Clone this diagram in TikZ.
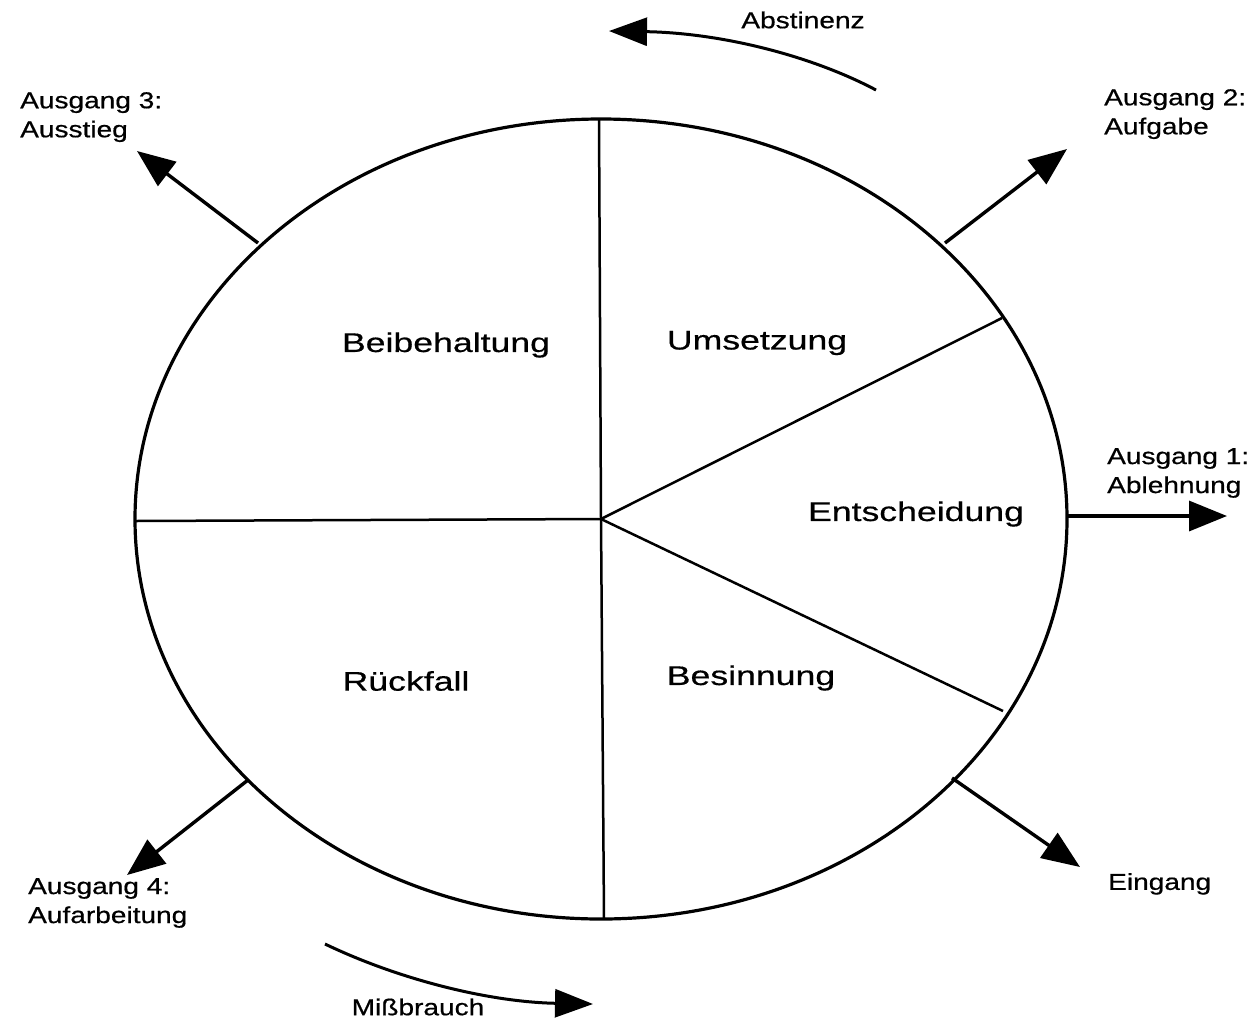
\documentclass[tikz,border=0pt]{standalone}
\usepackage{fontspec}
\setmainfont{Liberation Sans}
\newfontfamily\smallf[FakeStretch=1.22,FakeBold=0.6]{Liberation Sans}
\newfontfamily\bigf[FakeStretch=1.32,FakeBold=0.5]{Liberation Sans}
\usetikzlibrary{arrows.meta}
\begin{document}
\begin{tikzpicture}[x=1pt,y=-1pt,
  lab/.style={font=\smallf\fontsize{23}{29}\selectfont,align=left,inner sep=0pt},
  phase/.style={font=\bigf\fontsize{27}{32}\selectfont,inner sep=0pt},
  sector/.style={line width=2.5pt},
  outarrow/.style={line width=3.4pt,-{Triangle[length=38pt,width=30pt]}},
  curvearrow/.style={line width=3pt,-{Triangle[length=38pt,width=28pt]}}]
\useasboundingbox (0,0) rectangle (1258,1021);
% ellipse
\coordinate (C) at (601,519);
\draw[line width=3.2pt] (C) ellipse [x radius=466, y radius=400];
% sector lines
\coordinate (top) at (599,119);
\coordinate (bot) at (604,919);
\coordinate (lft) at (135,521);
\coordinate (ur) at (1002,318);
\coordinate (lr) at (1003,711);
\draw[sector] (C) -- (top);
\draw[sector] (C) -- (bot);
\draw[sector] (C) -- (lft);
\draw[sector] (C) -- (ur);
\draw[sector] (C) -- (lr);
% phase labels
\node[phase] (beib) at (446,345) {Beibehaltung};
\node[phase] (ums) at (757,343) {Umsetzung};
\node[phase] (ent) at (916,514) {Entscheidung};
\node[phase] (rue) at (406,681) {Rückfall};
\node[phase] (bes) at (751,678) {Besinnung};
% outer labels
\node[lab,anchor=north west] (a3) at (20,92) {Ausgang 3:\\Ausstieg};
\node[lab,anchor=north west] (a2) at (1104,89) {Ausgang 2:\\Aufgabe};
\node[lab,anchor=north west] (a1) at (1107,448) {Ausgang 1:\\Ablehnung};
\node[lab,anchor=north west] (ein) at (1108,873) {Eingang};
\node[lab,anchor=north west] (a4) at (28,878) {Ausgang 4:\\Aufarbeitung};
\node[lab] (abs) at (803,20) {Abstinenz};
\node[lab] (mis) at (418,1007) {Mißbrauch};
% exit arrows
\coordinate (s3) at (258,243);  \coordinate (t3) at (137,151);
\coordinate (s2) at (945,243);  \coordinate (t2) at (1067,149);
\coordinate (s1) at (1068,516); \coordinate (t1) at (1227,516);
\coordinate (se) at (952,778);  \coordinate (te) at (1080,867);
\coordinate (s4) at (248,780);  \coordinate (t4) at (127,875);
\draw[outarrow] (s3) -- (t3);
\draw[outarrow] (s2) -- (t2);
\draw[outarrow] (s1) -- (t1);
\draw[outarrow] (se) -- (te);
\draw[outarrow] (s4) -- (t4);
% curved arrows
\coordinate (abS) at (876,90);  \coordinate (abT) at (609,31);
\coordinate (miS) at (325,944); \coordinate (miT) at (593,1004);
\draw[curvearrow] (abS) .. controls (810,55) and (720,33) .. (abT);
\draw[curvearrow] (miS) .. controls (400,980) and (490,1002) .. (miT);
\end{tikzpicture}
\end{document}
